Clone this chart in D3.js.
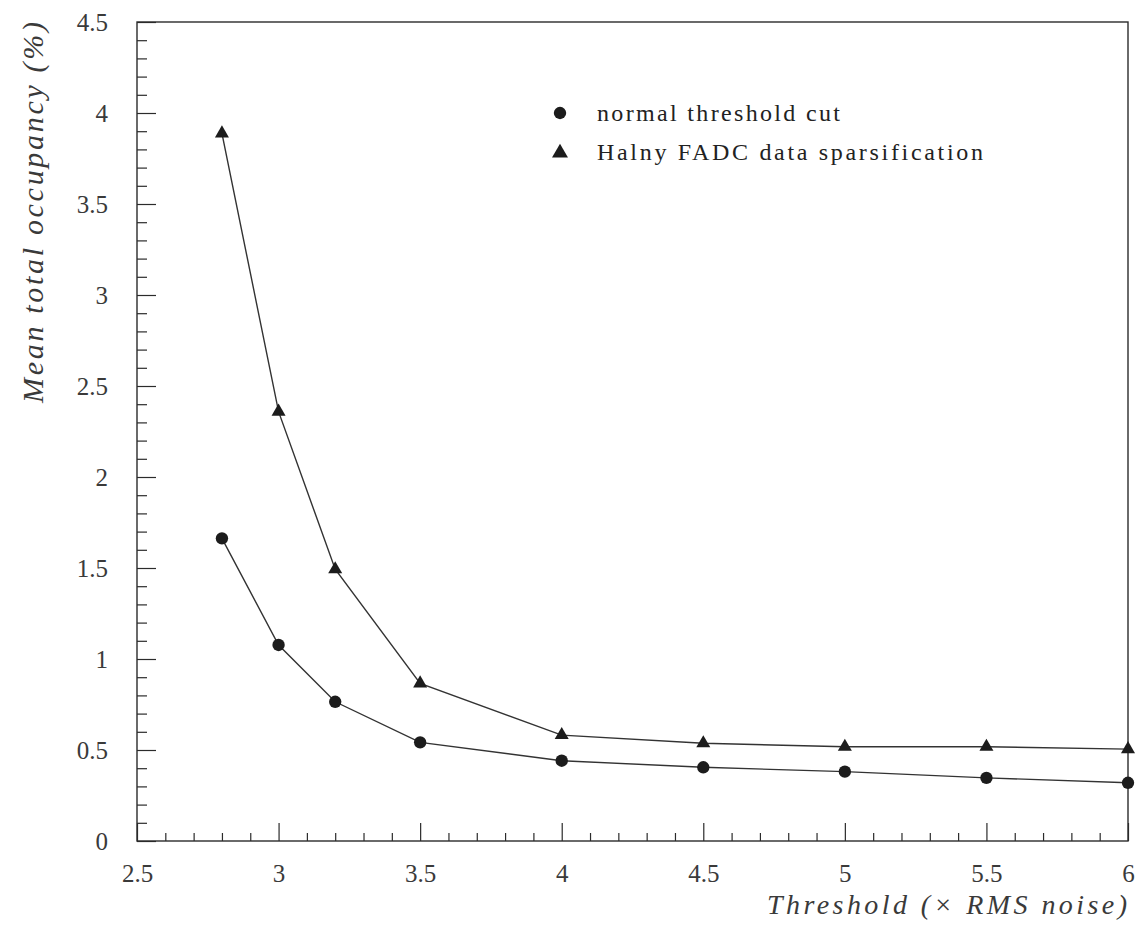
<!DOCTYPE html>
<html>
<head>
<meta charset="utf-8">
<script src="https://cdn.jsdelivr.net/npm/d3@7"></script>
<style>
  html, body { margin: 0; padding: 0; background: #fff; }
  svg { display: block; }
</style>
</head>
<body>
<svg id="chart" width="1141" height="927"></svg>
<script>
// Threshold values (in units of RMS noise)
const thresholds = [2.8, 3.0, 3.2, 3.5, 4.0, 4.5, 5.0, 5.5, 6.0];
// Mean total occupancy (%) for each method
const normalCut = [1.663, 1.077, 0.765, 0.542, 0.441, 0.405, 0.381, 0.347, 0.320];
const halnyFadc = [3.888, 2.359, 1.493, 0.866, 0.582, 0.537, 0.518, 0.518, 0.505];

const seriesNames = ["normal threshold cut", "Halny FADC data sparsification"];

const xTickValues = [2.5, 3, 3.5, 4, 4.5, 5, 5.5, 6];
const xTickLabels = ["2.5", "3", "3.5", "4", "4.5", "5", "5.5", "6"];
const yTickValues = [0, 0.5, 1, 1.5, 2, 2.5, 3, 3.5, 4, 4.5];
const yTickLabels = ["0", "0.5", "1", "1.5", "2", "2.5", "3", "3.5", "4", "4.5"];

const xTitle = "Threshold (\u00d7 RMS noise)";
const yTitle = "Mean total occupancy (%)";

const svg = d3.select("#chart");
const plotL = 137, plotR = 1128, plotT = 22, plotB = 841;
const ink = "#2b2b2b";
const serif = "'Liberation Serif', 'DejaVu Serif', serif";

const x = d3.scaleLinear().domain([2.5, 6]).range([plotL, plotR]);
const y = d3.scaleLinear().domain([0, 4.5]).range([plotB, plotT]);

// minor tick positions every 0.1
const isHalf = v => Math.abs(v * 2 - Math.round(v * 2)) < 1e-6;
const xMinor = d3.range(26, 60).map(d => d / 10).filter(v => !isHalf(v));
const yMinor = d3.range(1, 45).map(d => d / 10).filter(v => !isHalf(v));

// x axis: ticks point upward into the plot
svg.append("g").attr("transform", `translate(0,${plotB})`)
  .call(d3.axisBottom(x).tickValues(xTickValues)
    .tickFormat((d, i) => xTickLabels[i])
    .tickSizeInner(-18).tickSizeOuter(0).tickPadding(23));
svg.append("g").attr("transform", `translate(0,${plotB})`)
  .call(d3.axisBottom(x).tickValues(xMinor).tickFormat("")
    .tickSizeInner(-8).tickSizeOuter(0));

// y axis: ticks point right into the plot
svg.append("g").attr("transform", `translate(${plotL},0)`)
  .call(d3.axisLeft(y).tickValues(yTickValues)
    .tickFormat((d, i) => yTickLabels[i])
    .tickSizeInner(-19).tickSizeOuter(0).tickPadding(29));
svg.append("g").attr("transform", `translate(${plotL},0)`)
  .call(d3.axisLeft(y).tickValues(yMinor).tickFormat("")
    .tickSizeInner(-10).tickSizeOuter(0));

svg.selectAll(".domain").remove();
svg.selectAll(".tick line").attr("stroke", ink).attr("stroke-width", 1.2);
svg.selectAll(".tick text")
  .attr("fill", "#3a3a3a")
  .style("font-family", serif)
  .style("font-size", "25px");

// plot frame
svg.append("rect")
  .attr("x", plotL).attr("y", plotT)
  .attr("width", plotR - plotL).attr("height", plotB - plotT)
  .attr("fill", "none").attr("stroke", ink).attr("stroke-width", 1.4);

// series lines
const line = d3.line().x(d => x(d[0])).y(d => y(d[1]));
const normalPts = thresholds.map((t, i) => [t, normalCut[i]]);
const halnyPts = thresholds.map((t, i) => [t, halnyFadc[i]]);

[normalPts, halnyPts].forEach(pts => {
  svg.append("path").datum(pts)
    .attr("d", line)
    .attr("fill", "none")
    .attr("stroke", "#333")
    .attr("stroke-width", 1.4);
});

// markers
const circleSym = d3.symbol().type(d3.symbolCircle).size(120);
const triSym = d3.symbol().type(d3.symbolTriangle).size(85);

svg.append("g").selectAll("path").data(normalPts).join("path")
  .attr("d", circleSym)
  .attr("transform", d => `translate(${x(d[0])},${y(d[1])})`)
  .attr("fill", "#1c1c1c");

svg.append("g").selectAll("path").data(halnyPts).join("path")
  .attr("d", triSym)
  .attr("transform", d => `translate(${x(d[0])},${y(d[1])})`)
  .attr("fill", "#1c1c1c");

// legend
const legend = svg.append("g");
legend.append("path").attr("d", circleSym).attr("transform", "translate(560,113)").attr("fill", "#1c1c1c");
legend.append("path").attr("d", d3.symbol().type(d3.symbolTriangle).size(110)).attr("transform", "translate(560,153)").attr("fill", "#1c1c1c");
legend.append("text").attr("x", 597).attr("y", 121)
  .attr("textLength", 243).attr("lengthAdjust", "spacing")
  .style("font-family", serif).style("font-size", "24px").attr("fill", "#222")
  .text(seriesNames[0]);
legend.append("text").attr("x", 597).attr("y", 160)
  .attr("textLength", 386).attr("lengthAdjust", "spacing")
  .style("font-family", serif).style("font-size", "24px").attr("fill", "#222")
  .text(seriesNames[1]);

// axis titles
svg.append("text")
  .attr("x", 1127).attr("y", 914)
  .attr("text-anchor", "end")
  .attr("textLength", 360).attr("lengthAdjust", "spacing")
  .style("font-family", serif).style("font-style", "italic").style("font-size", "28px")
  .attr("fill", "#3a3a3a")
  .text(xTitle);

svg.append("text")
  .attr("transform", "translate(43,403) rotate(-90)")
  .attr("x", 0).attr("y", 0)
  .attr("textLength", 381).attr("lengthAdjust", "spacing")
  .style("font-family", serif).style("font-style", "italic").style("font-size", "30px")
  .attr("fill", "#3a3a3a")
  .text(yTitle);
</script>
</body>
</html>
